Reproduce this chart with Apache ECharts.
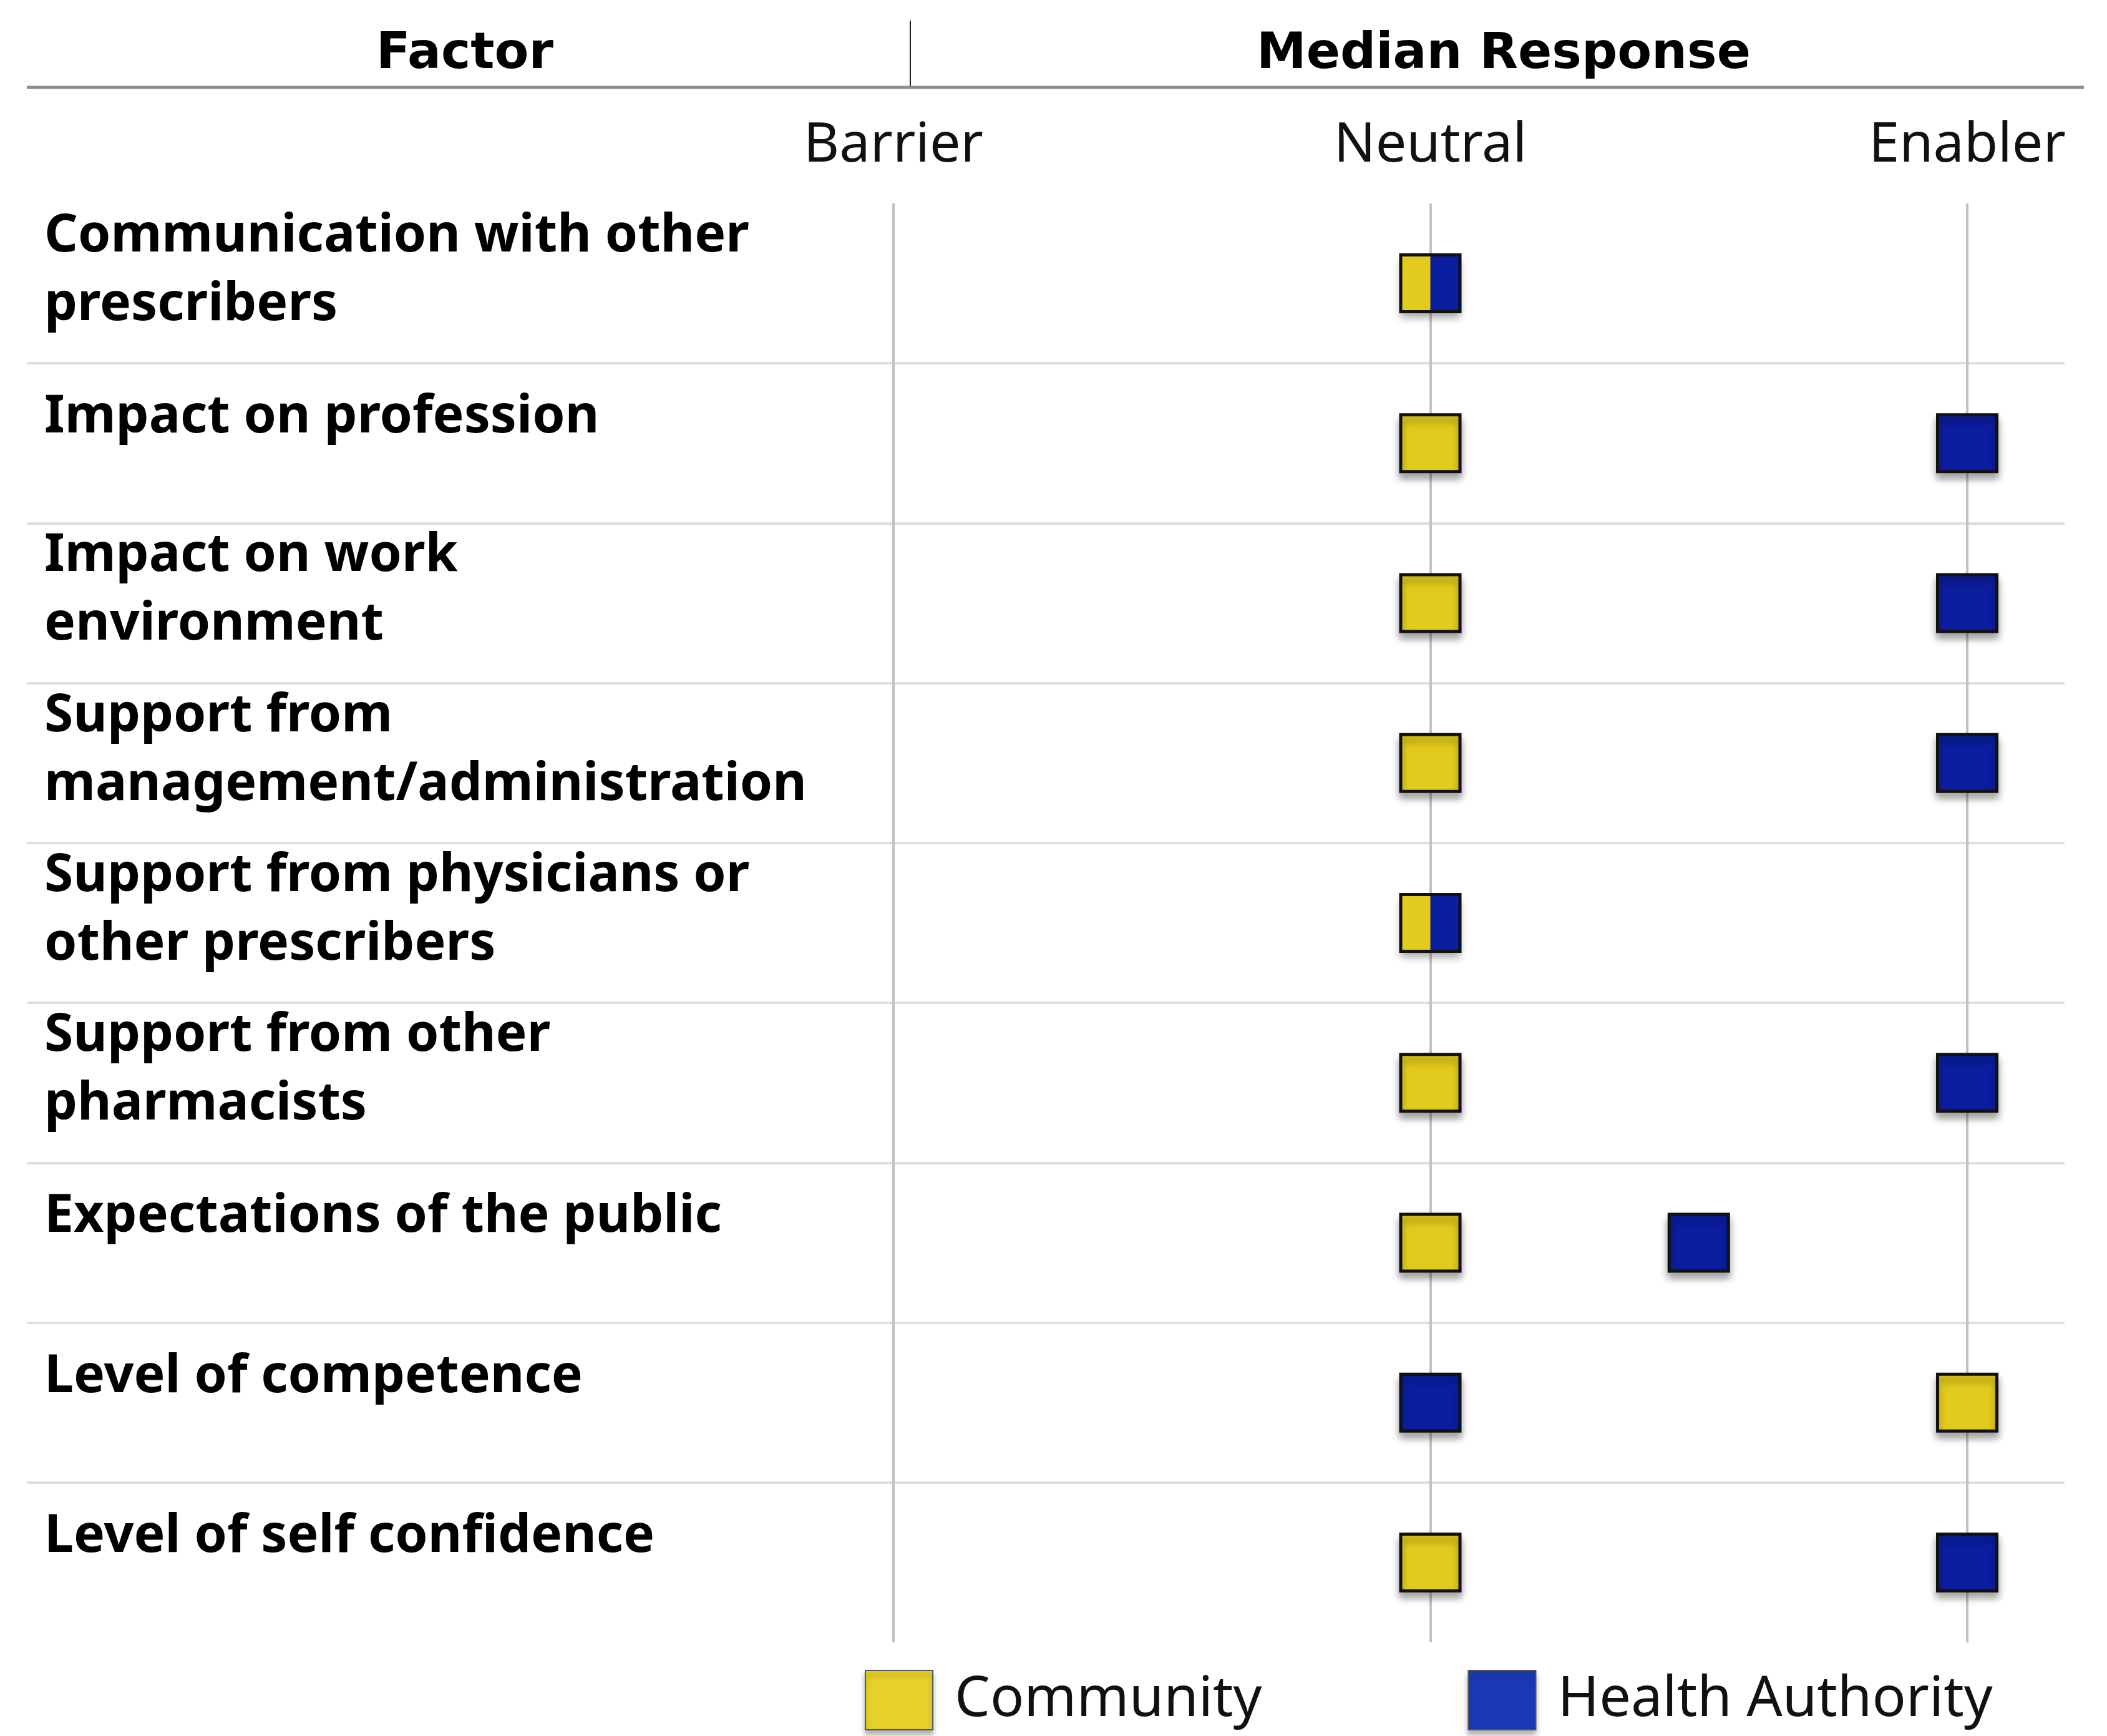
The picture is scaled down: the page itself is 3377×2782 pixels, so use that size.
<!DOCTYPE html>
<html><head><meta charset="utf-8">
<script src="https://cdn.jsdelivr.net/npm/echarts@6/dist/echarts.min.js"></script>
<style>html,body{margin:0;padding:0;background:#fff}#c{width:3377px;height:2782px}</style>
</head><body><div id="c"></div>
<script>
const factors = [
  "Communication with other\nprescribers",
  "Impact on profession",
  "Impact on work\nenvironment",
  "Support from\nmanagement/administration",
  "Support from physicians or\nother prescribers",
  "Support from other\npharmacists",
  "Expectations of the public",
  "Level of competence",
  "Level of self confidence"
];
// 1 = Barrier, 2 = Neutral, 3 = Enabler
const community = [2, 2, 2, 2, 2, 2, 2, 3, 2];
const healthAuthority = [2, 3, 3, 3, 2, 3, 2.5, 2, 3];
const responseTicks = ["Barrier", "Neutral", "Enabler"];
const seriesNames = ["Community", "Health Authority"];
const headers = ["Factor", "Median Response"];

const chart = echarts.init(document.getElementById('c'), null, {renderer: 'canvas'});
const W = 95, H = 91;
const shadow = {shadowBlur: 12, shadowOffsetY: 9, shadowColor: 'rgba(0,0,0,0.35)'};
function makeRender(own, other, isHA) {
  return function (params, api) {
    const p = api.coord([api.value(0), api.value(1)]);
    const same = other[params.dataIndex] === own[params.dataIndex];
    const fill = api.visual('color');
    const x0 = p[0] - W / 2, y0 = p[1] - H / 2;
    if (!same) {
      return {type: 'rect', shape: {x: x0, y: y0, width: W, height: H},
        style: Object.assign({fill: fill, stroke: '#111', lineWidth: 5}, shadow)};
    }
    if (!isHA) {
      return {type: 'rect', shape: {x: x0, y: y0, width: W, height: H},
        style: Object.assign({fill: fill}, shadow)};
    }
    return {type: 'group', children: [
      {type: 'rect', shape: {x: p[0], y: y0, width: W / 2, height: H}, style: {fill: fill}},
      {type: 'rect', shape: {x: x0, y: y0, width: W, height: H}, style: {fill: 'none', stroke: '#111', lineWidth: 5}}
    ]};
  };
}

const labelRich = {
  b: {fontFamily: 'Noto Sans', fontWeight: 'bold', fontSize: 84, lineHeight: 110, color: '#000'},
  s: {fontFamily: 'Noto Sans', fontWeight: 'bold', fontSize: 84, lineHeight: 110, color: '#000', padding: [0, 0, 42, 0]}
};

const option = {
  backgroundColor: '#fff',
  animation: false,
  grid: [
    {left: 43, right: 68, top: 326, bottom: 150},
    {left: 1432, right: 224, top: 326, bottom: 150}
  ],
  xAxis: [
    {gridIndex: 0, type: 'value', show: false},
    {gridIndex: 1, type: 'value', min: 1, max: 3, interval: 1, position: 'top',
      axisLine: {show: false}, axisTick: {show: false},
      axisLabel: {formatter: v => responseTicks[v - 1] || '', fontFamily: 'Noto Sans', fontSize: 88, color: '#111', margin: 48},
      splitLine: {show: true, lineStyle: {color: '#c2c2c2', width: 4}}}
  ],
  yAxis: [
    {gridIndex: 0, type: 'category', data: factors, inverse: true,
      axisLine: {show: false}, axisTick: {show: false},
      axisLabel: {inside: true, margin: 28, padding: [0, 0, 40, 0],
        formatter: v => v.indexOf('\n') >= 0 ? v.split('\n').map(s => '{b|' + s + '}').join('\n') : '{s|' + v + '}',
        rich: labelRich},
      splitLine: {show: true, showMinLine: false, showMaxLine: false, lineStyle: {color: '#dedede', width: 4}}},
    {gridIndex: 1, type: 'category', data: factors, inverse: true, show: false}
  ],
  legend: {
    data: [
      {name: seriesNames[0], itemStyle: {color: '#E6D02A'}},
      {name: seriesNames[1], itemStyle: {color: '#1A3AB5'}}
    ],
    left: 1381, top: 2671, itemWidth: 108, itemHeight: 95, itemGap: 330, icon: 'rect',
    textStyle: {fontFamily: 'Noto Sans', fontSize: 90, color: '#111', padding: [0, 0, 0, 30]},
    itemStyle: {borderWidth: 2, borderColor: '#555', shadowBlur: 8, shadowOffsetY: 7, shadowColor: 'rgba(0,0,0,0.3)'}
  },
  series: [
    {type: 'custom', name: seriesNames[0], xAxisIndex: 1, yAxisIndex: 1, clip: false, z: 3,
      itemStyle: {color: '#E2CB1C'},
      data: community.map((v, i) => [v, i]),
      renderItem: makeRender(community, healthAuthority, false)},
    {type: 'custom', name: seriesNames[1], xAxisIndex: 1, yAxisIndex: 1, clip: false, z: 4,
      itemStyle: {color: '#0A1E9F'},
      data: healthAuthority.map((v, i) => [v, i]),
      renderItem: makeRender(healthAuthority, community, true)}
  ],
  graphic: [
    {type: 'text', x: 745, y: 88, style: {text: headers[0], fontFamily: 'DejaVu Sans', fontWeight: 'bold', fontSize: 80, fill: '#000', align: 'center', verticalAlign: 'middle'}},
    {type: 'text', x: 2410, y: 88, style: {text: headers[1], fontFamily: 'DejaVu Sans', fontWeight: 'bold', fontSize: 80, fill: '#000', align: 'center', verticalAlign: 'middle'}},
    {type: 'line', shape: {x1: 43, y1: 140, x2: 3340, y2: 140}, style: {stroke: '#8c8c8c', lineWidth: 5}},
    {type: 'line', shape: {x1: 1459, y1: 33, x2: 1459, y2: 138}, style: {stroke: '#222', lineWidth: 2}}
  ]
};
chart.setOption(option);
</script></body></html>
